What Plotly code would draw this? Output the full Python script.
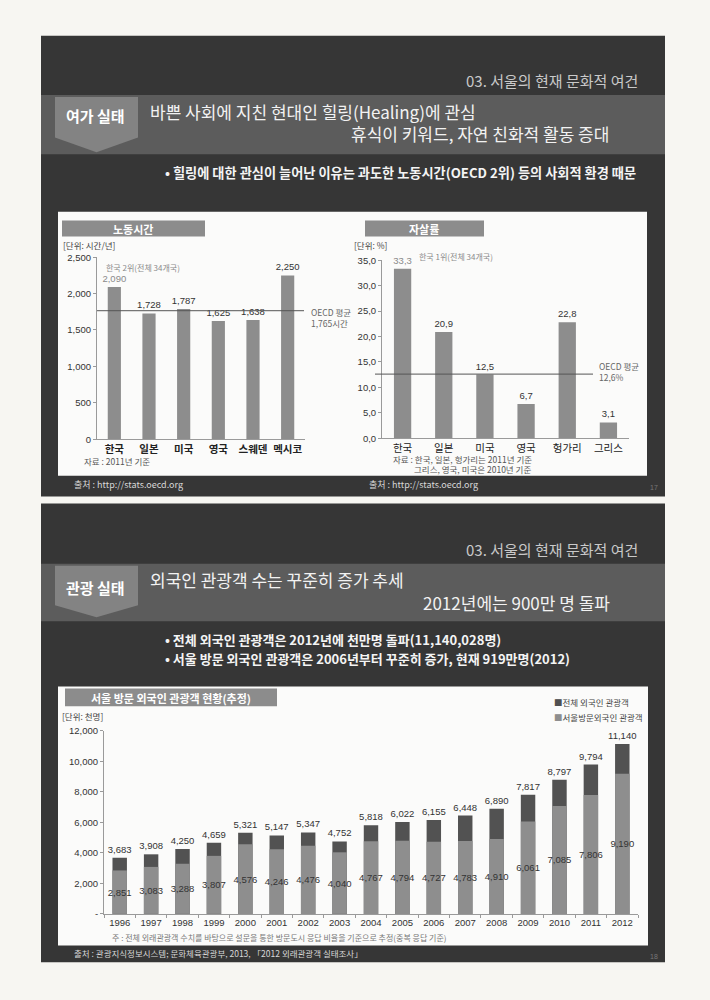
import plotly.graph_objects as go

# ---------------- data ----------------
hours_countries = ["한국", "일본", "미국", "영국", "스웨덴", "멕시코"]
hours = [2090, 1728, 1787, 1625, 1638, 2250]
oecd_hours = 1765
hours_ticks = [0, 500, 1000, 1500, 2000, 2500]

suicide_countries = ["한국", "일본", "미국", "영국", "헝가리", "그리스"]
suicide = [33.3, 20.9, 12.5, 6.7, 22.8, 3.1]
oecd_suicide = 12.6
suicide_ticks = [0, 5, 10, 15, 20, 25, 30, 35]

years = ["1996", "1997", "1998", "1999", "2000", "2001", "2002", "2003", "2004",
         "2005", "2006", "2007", "2008", "2009", "2010", "2011", "2012"]
total_visitors = [3683, 3908, 4250, 4659, 5321, 5147, 5347, 4752, 5818,
                  6022, 6155, 6448, 6890, 7817, 8797, 9794, 11140]
seoul_visitors = [2851, 3083, 3288, 3807, 4576, 4246, 4476, 4040, 4767,
                  4794, 4727, 4783, 4910, 6061, 7085, 7806, 9190]
visitor_ticks = [0, 2000, 4000, 6000, 8000, 10000, 12000]

# ---------------- helpers ----------------
W, H = 710, 1000
def X(px):
    return px / W
def Y(py):
    return 1 - py / H

FONT = "Liberation Sans, Noto Sans CJK KR, sans-serif"
KFONT = "Noto Sans CJK KR, sans-serif"

def comma_dec(v):
    return f"{v:.1f}".replace(".", ",")

shapes = []
def rect(x0, y0, x1, y1, color, line=None):
    shapes.append(dict(type="rect", xref="paper", yref="paper", x0=X(x0), x1=X(x1),
                       y0=Y(y1), y1=Y(y0), fillcolor=color, layer="below",
                       line=dict(width=0) if line is None else line))

def pentagon(x0, y0, x1, y1, tip, color):
    xm = (x0 + x1) / 2
    pts = [(x0, y0), (x1, y0), (x1, y1), (xm, tip), (x0, y1)]
    path = "M " + " L ".join(f"{X(a):.5f},{Y(b):.5f}" for a, b in pts) + " Z"
    shapes.append(dict(type="path", xref="paper", yref="paper", path=path,
                       fillcolor=color, line=dict(width=0), layer="below"))

annotations = []
def txt(s, x, y, size=10, color="#333", xanchor="left", yanchor="middle",
        family=FONT, align="left"):
    annotations.append(dict(text=s, xref="paper", yref="paper", x=X(x), y=Y(y),
                            xanchor=xanchor, yanchor=yanchor, showarrow=False,
                            font=dict(size=size, color=color, family=family),
                            align=align))

# ---------------- slide backgrounds ----------------
# top slide
rect(41, 30, 665, 496, "#363636")
rect(41, 90, 665, 150, "#5c5c5c")
pentagon(55, 92, 138, 133, 148, "#838383")
rect(58, 208, 647, 475, "#fbfbfa")
rect(62, 217, 205, 233, "#8c8c8c")
rect(365, 217, 484, 233, "#8c8c8c")
# bottom slide
rect(41, 503, 665, 967, "#363636")
rect(41, 564, 665, 622, "#5c5c5c")
pentagon(55, 566, 138, 606, 618, "#838383")
rect(58, 688, 648, 950, "#fbfbfa")
rect(65, 690, 277, 708, "#8c8c8c")

# ---------------- texts: top slide ----------------
txt("03. 서울의 현재 문화적 여건", 640, 75, 15, "#c9c9c9", "right", family=KFONT)
txt("<b>여가 실태</b>", 96, 111, 15, "#ffffff", "center", family=KFONT)
txt("바쁜 사회에 지친 현대인 힐링(Healing)에 관심", 148, 107, 17, "#f2f2f2", family=KFONT)
txt("휴식이 키워드, 자연 친화적 활동 증대", 611, 129, 17, "#f2f2f2", "right", family=KFONT)
txt("<b>• 힐링에 대한 관심이 늘어난 이유는 과도한 노동시간(OECD 2위) 등의 사회적 환경 때문</b>",
    638, 168, 13.2, "#f4f4f4", "right", family=KFONT)

txt("<b>노동시간</b>", 133, 225, 11, "#ffffff", "center", family=KFONT)
txt("[단위: 시간/년]", 61, 242, 8.5, "#444", family=KFONT)
txt("한국 2위(전체 34개국)", 104, 264, 8, "#8a8a8a", family=KFONT)
txt("OECD 평균<br>1,765시간", 309, 315, 8.5, "#666", family=KFONT)
txt("자료 : 2011년 기준", 82, 460, 8.5, "#555", family=KFONT)
txt("출처 : http://stats.oecd.org", 72, 484, 9, "#d8d8d8", family=KFONT)

txt("<b>자살률</b>", 424, 225, 11, "#ffffff", "center", family=KFONT)
txt("[단위: %]", 352, 242, 8.5, "#444", family=KFONT)
txt("한국 1위(전체 34개국)", 417, 253, 8, "#8a8a8a", family=KFONT)
txt("OECD 평균<br>12,6%", 597, 370, 8.5, "#666", family=KFONT)
txt("자료 : 한국, 일본, 헝가리는 2011년 기준", 391, 458, 8.5, "#555", family=KFONT)
txt("그리스, 영국, 미국은 2010년 기준", 412, 468, 8.5, "#555", family=KFONT)
txt("출처 : http://stats.oecd.org", 367, 484, 9, "#d8d8d8", family=KFONT)
txt("17", 660, 487, 7, "#777", "right")

# ---------------- texts: bottom slide ----------------
txt("03. 서울의 현재 문화적 여건", 640, 550, 15, "#c9c9c9", "right", family=KFONT)
txt("<b>관광 실태</b>", 96, 588, 15, "#ffffff", "center", family=KFONT)
txt("외국인 관광객 수는 꾸준히 증가 추세", 148, 580, 17, "#f2f2f2", family=KFONT)
txt("2012년에는 900만 명 돌파", 612, 603, 17, "#f2f2f2", "right", family=KFONT)
txt("<b>• 전체 외국인 관광객은 2012년에 천만명 돌파(11,140,028명)</b>", 163, 641, 13, "#f4f4f4", family=KFONT)
txt("<b>• 서울 방문 외국인 관광객은 2006년부터 꾸준히 증가, 현재 919만명(2012)</b>", 163, 660, 13, "#f4f4f4", family=KFONT)

txt("<b>서울 방문 외국인 관광객 현황(추정)</b>", 171, 700, 11, "#ffffff", "center", family=KFONT)
txt("[단위: 천명]", 60, 718, 8.5, "#444", family=KFONT)
txt("<span style='color:#505050'>■</span>전체 외국인 관광객", 552, 704, 8.5, "#444", family=KFONT)
txt("<span style='color:#8e8e8e'>■</span>서울방문외국인 관광객", 552, 719, 8.5, "#444", family=KFONT)
txt("주 : 전체 외래관광객 수치를 바탕으로 설문을 통한 방문도시 응답 비율을 기준으로 추정(중복 응답 기준)",
    110, 942, 8, "#777", family=KFONT)
txt("출처 : 관광지식정보시스템; 문화체육관광부, 2013, 「2012 외래관광객 실태조사」", 72, 958, 8.5, "#d8d8d8", family=KFONT)
txt("18", 660, 961, 7, "#777", "right")

# ---------------- OECD lines ----------------
shapes.append(dict(type="line", xref="paper", yref="y", x0=X(97), x1=X(304),
                   y0=oecd_hours, y1=oecd_hours, line=dict(color="#555", width=1)))
shapes.append(dict(type="line", xref="paper", yref="y2", x0=X(375), x1=X(593),
                   y0=oecd_suicide, y1=oecd_suicide, line=dict(color="#555", width=1)))

# ---------------- traces ----------------
fig = go.Figure()

hours_text_colors = ["#8a8a8a"] + ["#333"] * (len(hours) - 1)
fig.add_trace(go.Bar(
    x=hours_countries, y=hours, xaxis="x", yaxis="y",
    marker=dict(color="#8d8d8d", line=dict(width=0)), width=0.38,
    text=[f"{v:,}" for v in hours], textposition="outside", constraintext="none",
    textangle=0, cliponaxis=False,
    textfont=dict(size=9.5, color=hours_text_colors, family=FONT),
    hoverinfo="skip", showlegend=False))

suicide_text_colors = ["#8a8a8a"] + ["#333"] * (len(suicide) - 1)
fig.add_trace(go.Bar(
    x=suicide_countries, y=suicide, xaxis="x2", yaxis="y2",
    marker=dict(color="#8d8d8d", line=dict(width=0)), width=0.42,
    text=[comma_dec(v) for v in suicide], textposition="outside", constraintext="none",
    textangle=0, cliponaxis=False,
    textfont=dict(size=9.5, color=suicide_text_colors, family=FONT),
    hoverinfo="skip", showlegend=False))

fig.add_trace(go.Bar(
    x=years, y=total_visitors, xaxis="x3", yaxis="y3", name="전체 외국인 관광객",
    marker=dict(color="#525252", line=dict(width=0)), width=0.46,
    text=[f"{v:,}" for v in total_visitors], textposition="outside", constraintext="none",
    textangle=0, cliponaxis=False,
    textfont=dict(size=9.5, color="#333", family=FONT),
    hoverinfo="skip", showlegend=False))
fig.add_trace(go.Bar(
    x=years, y=seoul_visitors, xaxis="x3", yaxis="y3", name="서울방문외국인 관광객",
    marker=dict(color="#8e8e8e", line=dict(width=0)), width=0.46,
    text=[f"{v:,}" for v in seoul_visitors], textposition="inside", insidetextanchor="middle",
    constraintext="none", textangle=0, cliponaxis=False,
    textfont=dict(size=9.5, color="#333", family=FONT),
    hoverinfo="skip", showlegend=False))

axis_common = dict(showgrid=False, zeroline=False, showline=True, linecolor="#9a9a9a",
                   linewidth=1, fixedrange=True)

fig.update_layout(
    width=W, height=H, margin=dict(l=0, r=0, t=0, b=0),
    paper_bgcolor="#f7f6f2", plot_bgcolor="rgba(0,0,0,0)",
    font=dict(family=FONT, size=10, color="#333"),
    barmode="overlay", showlegend=False,
    uniformtext=dict(mode="show", minsize=9),
    shapes=shapes, annotations=annotations,
    xaxis=dict(domain=[X(97), X(305)], anchor="y", ticks="", **axis_common,
               tickvals=hours_countries, ticktext=[f"<b>{c}</b>" for c in hours_countries],
               tickfont=dict(size=10.5, color="#222", family=KFONT)),
    yaxis=dict(domain=[Y(438), Y(254)], anchor="x", range=[0, 2500], **axis_common,
               tickvals=hours_ticks, ticktext=[f"{v:,}" for v in hours_ticks],
               ticks="outside", ticklen=3, tickcolor="#9a9a9a",
               tickfont=dict(size=9.5, color="#333")),
    xaxis2=dict(domain=[X(382), X(629)], anchor="y2", ticks="", **axis_common,
                tickvals=suicide_countries, ticktext=suicide_countries,
                tickfont=dict(size=10.5, color="#222", family=KFONT)),
    yaxis2=dict(domain=[Y(437), Y(257)], anchor="x2", range=[0, 35], **axis_common,
                tickvals=suicide_ticks, ticktext=[comma_dec(v) for v in suicide_ticks],
                ticks="outside", ticklen=3, tickcolor="#9a9a9a",
                tickfont=dict(size=9.5, color="#333")),
    xaxis3=dict(domain=[X(104), X(638)], anchor="y3", **axis_common,
                ticks="outside", ticklen=3, tickcolor="#9a9a9a", tickson="boundaries",
                tickfont=dict(size=9.5, color="#333")),
    yaxis3=dict(domain=[Y(918), Y(733)], anchor="x3", range=[0, 12000], **axis_common,
                tickvals=visitor_ticks, ticktext=["-"] + [f"{v:,}" for v in visitor_ticks[1:]],
                ticks="outside", ticklen=3, tickcolor="#9a9a9a",
                tickfont=dict(size=9.5, color="#333")),
)

fig.write_html("out.html")
